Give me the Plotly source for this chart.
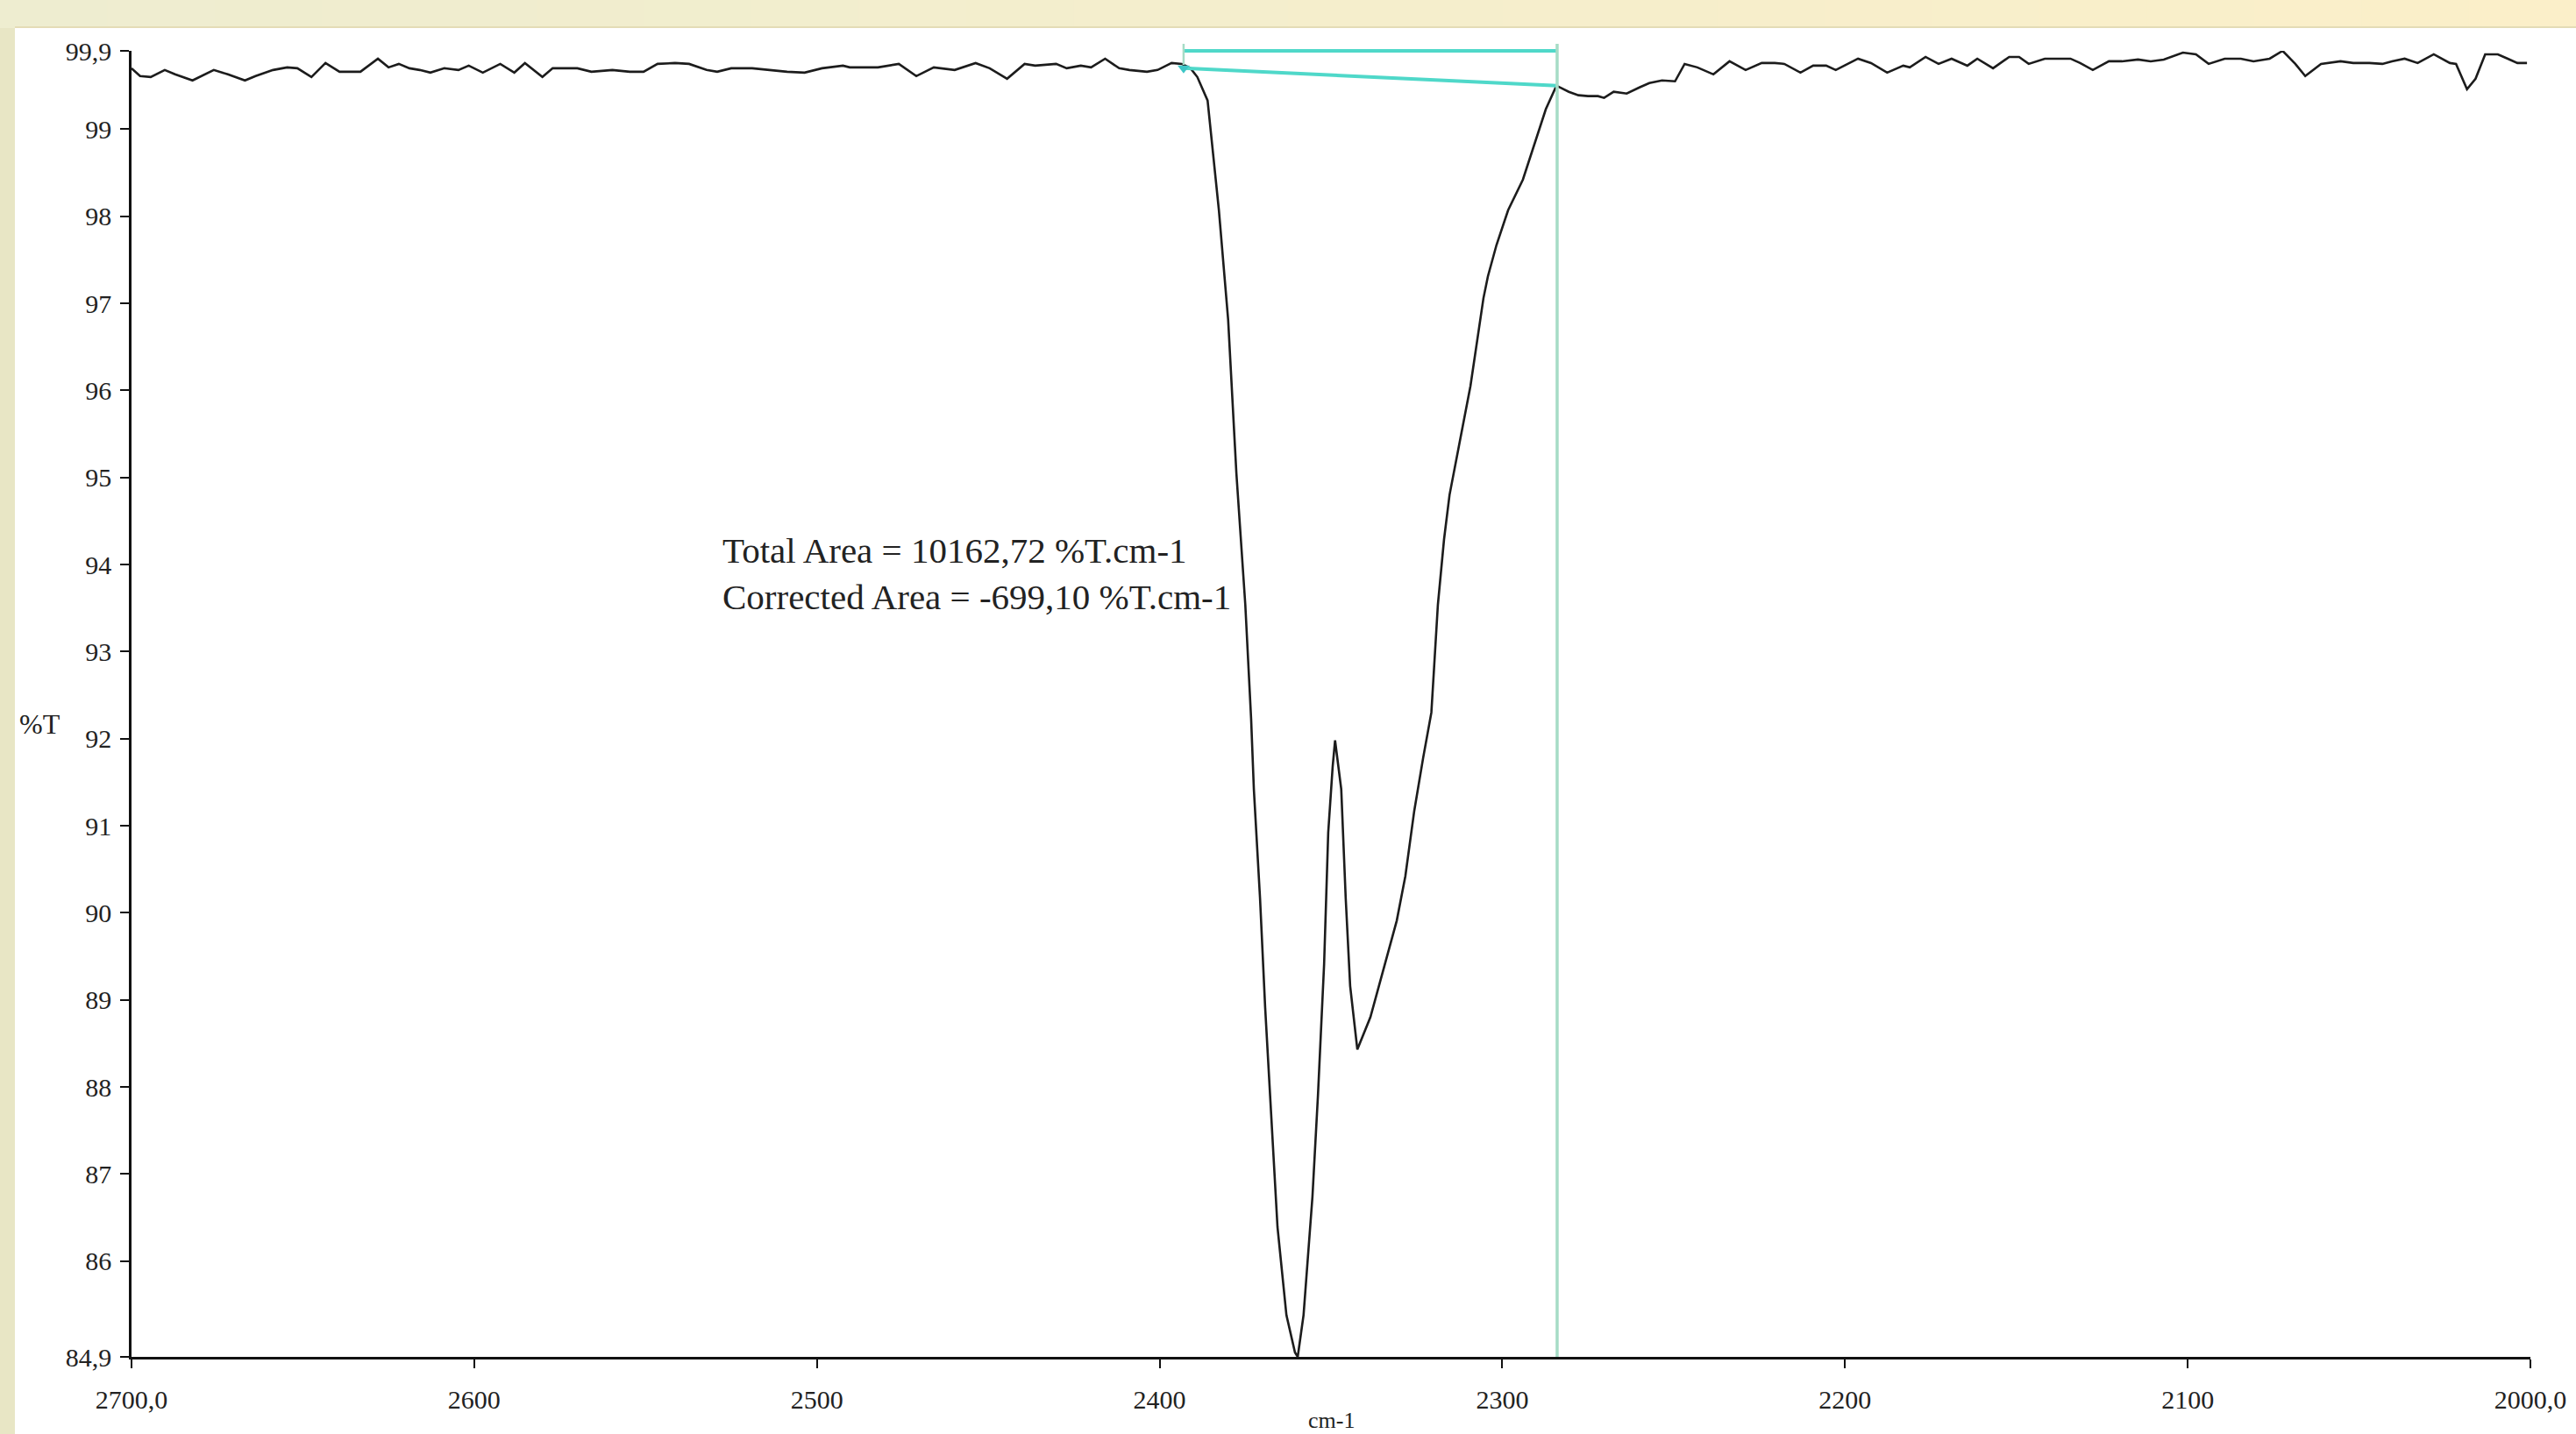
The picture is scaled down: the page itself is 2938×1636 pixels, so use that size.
import plotly.graph_objects as go

# ---------------- data ----------------
wavenumber = [
    2700.0, 2697.5, 2694.4, 2690.3, 2687.3, 2682.2, 2676.0, 2671.9, 2666.9, 2663.8,
    2658.7, 2654.6, 2651.6, 2647.5, 2643.4, 2639.3, 2633.2, 2628.1, 2625.0, 2622.0,
    2618.9, 2615.9, 2612.8, 2608.7, 2604.6, 2601.6, 2597.5, 2592.4, 2588.3, 2585.2,
    2580.1, 2577.1, 2569.9, 2565.8, 2559.7, 2554.6, 2550.6, 2546.5, 2541.4, 2537.3,
    2532.2, 2529.1, 2525.0, 2518.9, 2508.7, 2503.6, 2498.5, 2492.4, 2490.4, 2486.3,
    2482.2, 2476.1, 2471.0, 2465.9, 2459.8, 2453.7, 2449.6, 2444.5, 2439.4, 2436.3,
    2430.2, 2427.1, 2423.0, 2420.0, 2415.9, 2411.8, 2408.8, 2403.7, 2400.6, 2396.5,
    2393.5, 2391.0, 2389.0, 2386.0, 2385.3, 2382.7, 2380.0, 2377.6, 2375.0, 2373.3,
    2372.5, 2370.7, 2369.2, 2367.4, 2365.6, 2363.0, 2360.5, 2359.7, 2358.0, 2355.4,
    2353.8, 2352.0, 2350.8, 2349.5, 2348.8, 2347.0, 2345.7, 2344.4, 2342.3, 2338.5,
    2334.9, 2330.8, 2328.3, 2325.7, 2323.1, 2320.7, 2318.8, 2317.0, 2315.4, 2312.9,
    2309.3, 2305.5, 2304.2, 2301.7, 2298.3, 2294.0, 2290.6, 2287.3, 2284.2, 2280.6,
    2277.8, 2275.0, 2272.1, 2270.3, 2267.5, 2263.7, 2260.0, 2257.1, 2253.4, 2249.6,
    2246.8, 2243.1, 2238.4, 2233.7, 2229.0, 2224.3, 2220.5, 2217.7, 2213.0, 2209.3,
    2205.5, 2202.7, 2196.2, 2192.4, 2187.7, 2183.0, 2181.1, 2176.5, 2172.7, 2168.9,
    2164.3, 2161.4, 2156.8, 2152.1, 2149.2, 2146.4, 2141.7, 2138.0, 2134.2, 2131.4,
    2127.7, 2123.0, 2119.2, 2114.5, 2110.8, 2107.0, 2101.4, 2097.6, 2093.9, 2089.2,
    2084.5, 2080.8, 2076.1, 2072.3, 2068.6, 2065.7, 2061.1, 2055.4, 2051.7, 2047.0,
    2043.2, 2040.4, 2036.7, 2032.9, 2028.2, 2023.5, 2021.7, 2018.5, 2016.0, 2013.2,
    2009.5, 2006.6, 2003.8, 2001.0,
]
transmittance = [
    99.70, 99.61, 99.60, 99.68, 99.63, 99.56, 99.68, 99.63, 99.56, 99.61,
    99.68, 99.71, 99.70, 99.60, 99.76, 99.66, 99.66, 99.81, 99.71, 99.75,
    99.70, 99.68, 99.65, 99.70, 99.68, 99.73, 99.65, 99.75, 99.65, 99.76,
    99.60, 99.70, 99.70, 99.66, 99.68, 99.66, 99.66, 99.75, 99.76, 99.75,
    99.68, 99.66, 99.70, 99.70, 99.66, 99.65, 99.70, 99.73, 99.71, 99.71,
    99.71, 99.75, 99.61, 99.71, 99.68, 99.76, 99.70, 99.58, 99.75, 99.73,
    99.75, 99.70, 99.73, 99.71, 99.81, 99.70, 99.68, 99.66, 99.68, 99.76,
    99.75, 99.70, 99.60, 99.33, 99.07, 98.07, 96.81, 95.05, 93.54, 92.23,
    91.42, 90.17, 88.91, 87.65, 86.39, 85.38, 84.95, 84.90, 85.38, 86.74,
    87.90, 89.41, 90.92, 91.68, 91.98, 91.42, 90.17, 89.16, 88.43, 88.80,
    89.31, 89.91, 90.42, 91.17, 91.78, 92.30, 93.54, 94.29, 94.80, 95.30,
    96.05, 97.06, 97.31, 97.67, 98.07, 98.42, 98.82, 99.23, 99.50, 99.43,
    99.39, 99.38, 99.38, 99.36, 99.43, 99.41, 99.48, 99.53, 99.56, 99.55,
    99.75, 99.71, 99.63, 99.78, 99.68, 99.76, 99.76, 99.75, 99.65, 99.73,
    99.73, 99.68, 99.81, 99.76, 99.65, 99.73, 99.71, 99.83, 99.75, 99.81,
    99.73, 99.81, 99.70, 99.83, 99.83, 99.75, 99.81, 99.81, 99.81, 99.76,
    99.68, 99.78, 99.78, 99.80, 99.78, 99.80, 99.88, 99.86, 99.75, 99.81,
    99.81, 99.78, 99.81, 99.90, 99.75, 99.61, 99.75, 99.78, 99.76, 99.76,
    99.75, 99.78, 99.81, 99.76, 99.86, 99.76, 99.75, 99.46, 99.58, 99.86,
    99.86, 99.81, 99.76, 99.76,
]

# integration region (start / end wavenumbers) and its baseline
region_limits = [2393.0, 2284.0]
baseline_T = [99.70, 99.50]

x_tickvals = [2700, 2600, 2500, 2400, 2300, 2200, 2100, 2000]
x_ticktext = ["2700,0", "2600", "2500", "2400", "2300", "2200", "2100", "2000,0"]
y_tickvals = [84.9, 86, 87, 88, 89, 90, 91, 92, 93, 94, 95, 96, 97, 98, 99, 99.9]
y_ticktext = ["84,9", "86", "87", "88", "89", "90", "91", "92", "93", "94",
              "95", "96", "97", "98", "99", "99,9"]

area_text = "Total Area = 10162,72 %T.cm-1<br>Corrected Area = -699,10 %T.cm-1"

# ---------------- layout geometry ----------------
W, H = 2938, 1636
ML, MR, MT, MB = 150, 52, 58, 88
PW, PH = W - ML - MR, H - MT - MB


def px_x(px):
    return (px - ML) / PW


def px_y(py):
    return (H - MB - py) / PH


SERIF = "Liberation Serif, Times New Roman, serif"
CYAN = "#4fd8c9"
CYAN_PALE = "#a6dcc6"

fig = go.Figure()

fig.add_trace(go.Scatter(
    x=wavenumber, y=transmittance, mode="lines",
    line=dict(color="#1c1c1c", width=2.6), showlegend=False, hoverinfo="skip",
))

# baseline of the integration region
fig.add_trace(go.Scatter(
    x=region_limits, y=baseline_T, mode="lines",
    line=dict(color=CYAN, width=4), showlegend=False, hoverinfo="skip",
))
fig.add_trace(go.Scatter(
    x=[region_limits[0]], y=[baseline_T[0]], mode="markers",
    marker=dict(symbol="triangle-down", size=12, color="#3cc6c6"),
    showlegend=False, hoverinfo="skip", cliponaxis=False,
))

shapes = []
# left beige strip
shapes.append(dict(type="rect", xref="paper", yref="paper", x0=px_x(0), x1=px_x(17),
                   y0=px_y(H), y1=px_y(0), fillcolor="#e8e6c5", line=dict(width=0), layer="below"))
# top gradient band
left_c = (0xEE, 0xED, 0xD0)
right_c = (0xFB, 0xEF, 0xC9)
n = 24
for i in range(n):
    t = i / (n - 1)
    c = tuple(int(round(a + (b - a) * t)) for a, b in zip(left_c, right_c))
    x0 = i * W / n
    x1 = (i + 1) * W / n + 1
    shapes.append(dict(type="rect", xref="paper", yref="paper", x0=px_x(x0), x1=px_x(x1),
                       y0=px_y(32), y1=px_y(0), fillcolor="rgb(%d,%d,%d)" % c,
                       line=dict(width=0), layer="below"))
shapes.append(dict(type="line", xref="paper", yref="paper", x0=px_x(17), x1=px_x(W),
                   y0=px_y(31), y1=px_y(31), line=dict(color="#e4dcb6", width=2), layer="below"))

# top bracket of integration region
shapes.append(dict(type="line", xref="x", yref="paper", x0=region_limits[0], x1=region_limits[1],
                   y0=px_y(58), y1=px_y(58), line=dict(color=CYAN, width=4)))
shapes.append(dict(type="line", xref="x", yref="paper", x0=region_limits[0], x1=region_limits[0],
                   y0=px_y(50), y1=px_y(74), line=dict(color=CYAN_PALE, width=2.5)))
shapes.append(dict(type="line", xref="x", yref="paper", x0=region_limits[1], x1=region_limits[1],
                   y0=px_y(50), y1=px_y(H - MB), line=dict(color=CYAN_PALE, width=3.5)))

fig.update_layout(
    width=W, height=H,
    margin=dict(l=ML, r=MR, t=MT, b=MB, pad=0),
    paper_bgcolor="white", plot_bgcolor="white",
    shapes=shapes,
    showlegend=False,
    xaxis=dict(
        range=[2700, 2000], showgrid=False, zeroline=False,
        showline=True, linecolor="#111", linewidth=2.5,
        ticks="outside", ticklen=10, tickwidth=2, tickcolor="#111",
        tickvals=x_tickvals, ticktext=x_ticktext,
        tickfont=dict(family=SERIF, size=30, color="#222"),
        ticklabelstandoff=10,
    ),
    yaxis=dict(
        range=[84.9, 99.9], showgrid=False, zeroline=False,
        showline=True, linecolor="#111", linewidth=2.5,
        ticks="outside", ticklen=10, tickwidth=2, tickcolor="#111",
        tickvals=y_tickvals, ticktext=y_ticktext,
        tickfont=dict(family=SERIF, size=30, color="#222"),
        ticklabelstandoff=4,
    ),
    annotations=[
        dict(x=2528, y=93.9, xref="x", yref="y", text=area_text, showarrow=False,
             xanchor="left", yanchor="middle", align="left",
             font=dict(family=SERIF, size=41, color="#222")),
        dict(x=px_x(20), y=px_y(826), xref="paper", yref="paper", text="%T", showarrow=False,
             xanchor="left", yanchor="middle", font=dict(family=SERIF, size=32, color="#222")),
        dict(x=0.5, y=px_y(1604), xref="paper", yref="paper", text="cm-1", showarrow=False,
             xanchor="center", yanchor="top", font=dict(family=SERIF, size=26, color="#222")),
    ],
)

fig.write_html(
    "out.html",
    config={"displayModeBar": False},
    post_script="document.body.style.margin='0px';document.body.style.overflow='hidden';",
)
